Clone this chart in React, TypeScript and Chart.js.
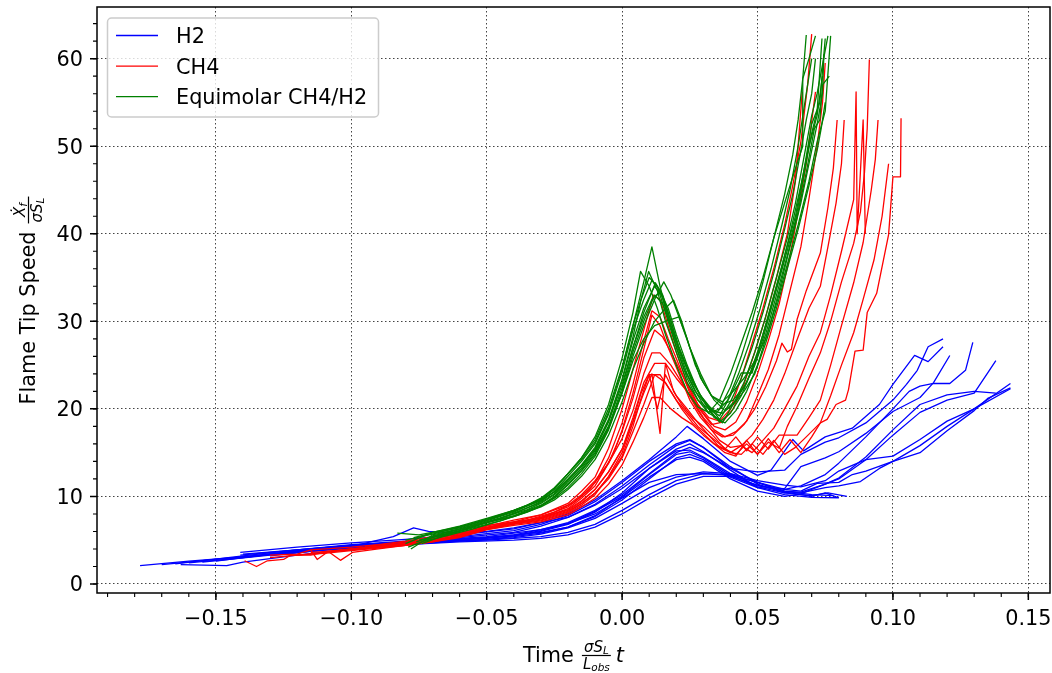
import React, { useEffect, useRef } from "react";
import { Chart, registerables } from "chart.js";
Chart.register(...registerables);

type Run = number[][];

// ---------------- H2 runs (x = scaled time, y = flame tip speed) ----------------
const H2_A: Run = [[-0.178,2.1],[-0.16,2.6],[-0.14,3.1],[-0.12,3.6],[-0.10,4.2],[-0.08,4.6],[-0.06,5.0],[-0.04,5.6],[-0.03,6.2],[-0.02,7.0],[-0.01,8.4],[0.0,10.2],[0.01,12.6],[0.02,15.0],[0.025,15.6],[0.03,15.0],[0.04,13.2],[0.05,11.6],[0.06,10.6],[0.066,10.5],[0.075,11.4],[0.08,12.1],[0.09,14.5],[0.10,17.6],[0.11,20.5],[0.12,21.6],[0.13,22.0],[0.138,21.8]];
const H2_B: Run = [[-0.163,2.2],[-0.146,2.1],[-0.14,2.5],[-0.12,3.3],[-0.10,4.0],[-0.08,4.5],[-0.06,4.9],[-0.04,5.3],[-0.03,5.7],[-0.02,6.4],[-0.01,7.5],[0.0,9.2],[0.01,11.0],[0.02,12.2],[0.03,12.8],[0.04,12.6],[0.05,11.8],[0.06,11.3],[0.066,11.1],[0.075,11.8],[0.08,12.9],[0.09,14.2],[0.10,14.6],[0.11,16.5],[0.12,18.6],[0.13,20.0],[0.1434,22.3]];
const H2_C: Run = [[-0.165,2.3],[-0.14,3.2],[-0.12,3.9],[-0.10,4.5],[-0.08,4.9],[-0.07,5.0],[-0.05,5.4],[-0.03,6.2],[-0.02,6.9],[-0.01,8.0],[0.0,9.8],[0.01,11.6],[0.02,12.5],[0.03,12.6],[0.04,12.4],[0.05,11.6],[0.06,10.8],[0.066,10.6],[0.072,11.5],[0.08,11.6],[0.085,12.5],[0.09,12.9],[0.10,14.0],[0.11,15.8],[0.12,18.0],[0.13,20.0],[0.1434,22.9]];
const H2_D: Run = [[-0.141,3.6],[-0.12,4.2],[-0.10,4.7],[-0.08,5.1],[-0.06,5.6],[-0.04,6.3],[-0.03,7.0],[-0.02,8.0],[-0.01,9.6],[0.0,11.8],[0.01,14.2],[0.02,16.8],[0.024,18.0],[0.03,16.6],[0.04,14.0],[0.05,12.4],[0.055,13.0],[0.063,16.5],[0.067,15.2],[0.075,16.8],[0.085,17.8],[0.095,20.5],[0.10,22.8],[0.108,26.1],[0.113,25.4],[0.1185,27.1]];
const H2_E: Run = [[-0.141,3.3],[-0.12,3.9],[-0.10,4.4],[-0.08,4.8],[-0.06,5.4],[-0.04,6.1],[-0.03,6.8],[-0.02,7.8],[-0.01,9.4],[0.0,11.6],[0.01,14.0],[0.02,16.0],[0.025,16.5],[0.03,15.6],[0.04,13.2],[0.05,12.8],[0.06,13.0],[0.066,14.8],[0.075,16.2],[0.08,16.7],[0.09,18.4],[0.10,21.0],[0.105,22.8],[0.109,24.4],[0.113,27.1],[0.1185,28.0]];
const H2_F: Run = [[-0.16,2.4],[-0.14,3.0],[-0.12,3.7],[-0.10,4.3],[-0.08,4.7],[-0.06,5.1],[-0.04,5.5],[-0.03,6.0],[-0.02,6.8],[-0.01,8.2],[0.0,10.4],[0.01,13.2],[0.02,15.2],[0.025,15.3],[0.03,14.5],[0.04,12.6],[0.05,11.2],[0.06,10.8],[0.066,11.2],[0.075,12.5],[0.08,13.8],[0.09,16.8],[0.10,20.0],[0.106,22.0],[0.11,22.6],[0.115,22.9],[0.121,22.9],[0.1268,24.4],[0.1295,27.6]];
const H2_G: Run = [[-0.15,2.6],[-0.13,3.4],[-0.11,4.1],[-0.09,4.6],[-0.07,5.0],[-0.05,5.3],[-0.03,5.9],[-0.02,6.5],[-0.01,7.7],[0.0,9.6],[0.01,12.0],[0.02,14.4],[0.025,14.8],[0.03,14.2],[0.04,12.2],[0.05,11.0],[0.06,10.9],[0.066,13.4],[0.075,14.4],[0.08,15.1],[0.09,17.2],[0.10,19.7],[0.11,21.3],[0.115,23.0],[0.121,26.1]];
const H2_H: Run = [[-0.155,2.5],[-0.13,3.3],[-0.11,3.9],[-0.09,4.4],[-0.07,4.8],[-0.05,5.1],[-0.04,5.4],[-0.03,5.8],[-0.02,6.5],[-0.01,7.8],[0.0,9.9],[0.01,12.2],[0.02,14.2],[0.025,14.5],[0.03,14.0],[0.04,12.0],[0.05,10.6],[0.06,10.0],[0.066,10.3],[0.07,10.8],[0.08,12.0],[0.09,14.2],[0.10,17.0],[0.11,19.6],[0.12,21.0],[0.13,21.8],[0.135,24.1],[0.138,25.5]];
const H2_I: Run = [[-0.145,2.9],[-0.12,3.8],[-0.10,4.3],[-0.08,4.7],[-0.06,5.0],[-0.05,5.2],[-0.04,5.5],[-0.03,6.1],[-0.02,6.9],[-0.01,8.3],[0.0,10.0],[0.01,12.5],[0.02,14.8],[0.025,15.1],[0.03,14.4],[0.04,12.4],[0.05,11.1],[0.06,10.4],[0.066,10.4],[0.075,11.0],[0.08,11.2],[0.088,11.7],[0.095,13.2],[0.10,14.0],[0.11,15.0],[0.12,17.5],[0.13,19.8],[0.135,21.2],[0.1434,22.4]];
const H2_J: Run = [[-0.17,2.2],[-0.15,2.8],[-0.12,3.7],[-0.10,4.3],[-0.0845,5.4],[-0.077,6.4],[-0.0715,6.0],[-0.06,5.8],[-0.05,6.0],[-0.04,6.4],[-0.03,7.0],[-0.02,7.6],[-0.01,9.0],[0.0,10.9],[0.01,13.2],[0.02,15.4],[0.025,16.0],[0.03,15.1],[0.04,13.0],[0.05,11.0],[0.06,10.2],[0.07,9.9],[0.08,9.85]];
const H2_K: Run = [[-0.14,3.4],[-0.12,3.9],[-0.10,4.4],[-0.08,4.8],[-0.06,5.3],[-0.04,5.9],[-0.03,6.6],[-0.02,7.6],[-0.01,9.1],[0.0,11.2],[0.01,13.6],[0.02,15.8],[0.025,16.4],[0.03,15.6],[0.04,13.4],[0.05,11.4],[0.06,10.4],[0.07,10.1],[0.076,10.4],[0.083,10.0]];
const H2_L: Run = [[-0.12,3.6],[-0.10,4.1],[-0.08,4.5],[-0.06,4.8],[-0.04,5.0],[-0.03,5.2],[-0.02,5.6],[-0.01,6.5],[0.0,8.0],[0.01,9.8],[0.02,11.4],[0.03,12.3],[0.04,12.3],[0.05,11.3],[0.06,10.6],[0.07,10.2],[0.078,10.1]];
const H2_M: Run = [[-0.13,3.2],[-0.11,3.9],[-0.09,4.4],[-0.07,4.8],[-0.05,5.0],[-0.03,5.4],[-0.02,5.9],[-0.01,6.8],[0.0,8.4],[0.01,10.2],[0.02,11.8],[0.03,12.6],[0.04,12.5],[0.05,11.6],[0.06,10.5],[0.07,10.0],[0.075,10.4],[0.08,9.85]];

// ---------------- CH4 runs ----------------
const CH4_A: Run = [[-0.105,3.8],[-0.09,4.3],[-0.08,4.7],[-0.07,5.1],[-0.06,5.8],[-0.05,6.7],[-0.04,7.1],[-0.03,7.9],[-0.02,9.2],[-0.015,10.6],[-0.01,12.2],[-0.005,15.5],[0.0,20.0],[0.004,24.5],[0.008,29.0],[0.0115,33.0],[0.014,32.5],[0.017,29.5],[0.02,26.5],[0.024,23.0],[0.028,20.5],[0.032,19.0],[0.036,18.6],[0.04,20.0],[0.044,23.5],[0.048,27.5],[0.052,31.5],[0.056,36.0],[0.06,41.0],[0.063,45.5],[0.066,50.5],[0.0685,57.0],[0.07,62.8]];
const CH4_B: Run = [[-0.1,4.0],[-0.085,4.4],[-0.07,5.0],[-0.06,5.5],[-0.05,6.4],[-0.04,6.9],[-0.03,7.6],[-0.02,8.8],[-0.015,10.0],[-0.01,11.6],[-0.005,14.4],[0.0,18.4],[0.004,22.8],[0.008,27.8],[0.011,31.2],[0.014,30.5],[0.017,28.0],[0.021,25.0],[0.025,21.8],[0.029,19.8],[0.033,18.2],[0.037,18.5],[0.041,20.0],[0.045,22.8],[0.049,26.5],[0.053,30.5],[0.057,35.0],[0.061,40.0],[0.064,46.0],[0.0665,56.2]];
const CH4_C: Run = [[-0.115,3.9],[-0.1,4.2],[-0.09,4.5],[-0.08,4.9],[-0.07,5.4],[-0.06,5.8],[-0.05,6.5],[-0.04,7.1],[-0.03,7.5],[-0.02,8.6],[-0.015,9.8],[-0.01,11.2],[-0.005,13.8],[0.0,17.4],[0.004,21.2],[0.008,25.8],[0.012,29.0],[0.015,28.2],[0.018,26.5],[0.022,24.0],[0.026,21.5],[0.03,19.5],[0.034,18.0],[0.038,17.6],[0.042,18.5],[0.046,20.8],[0.05,24.0],[0.054,27.8],[0.058,32.0],[0.062,37.5],[0.065,42.5],[0.068,48.0],[0.0714,56.2]];
const CH4_D: Run = [[-0.11,3.7],[-0.1,4.0],[-0.09,4.3],[-0.08,4.5],[-0.07,4.9],[-0.06,5.6],[-0.05,6.6],[-0.04,7.3],[-0.03,7.9],[-0.02,9.0],[-0.015,10.2],[-0.01,11.8],[-0.005,13.8],[0.0,16.6],[0.004,19.8],[0.008,24.0],[0.011,26.4],[0.014,26.4],[0.018,25.0],[0.022,23.0],[0.026,21.0],[0.03,19.0],[0.034,17.6],[0.038,16.8],[0.042,17.4],[0.046,18.6],[0.05,21.5],[0.054,24.5],[0.058,28.5],[0.062,33.5],[0.066,38.5],[0.069,44.0],[0.072,50.0],[0.074,55.0],[0.075,59.5]];
const CH4_E: Run = [[-0.095,4.3],[-0.085,4.6],[-0.075,5.0],[-0.065,5.4],[-0.055,6.0],[-0.045,6.8],[-0.035,7.3],[-0.025,8.2],[-0.018,9.3],[-0.012,10.8],[-0.007,12.8],[-0.003,15.0],[0.0,17.6],[0.004,21.8],[0.008,26.8],[0.011,30.7],[0.014,29.5],[0.017,27.0],[0.021,24.0],[0.025,21.0],[0.029,19.0],[0.033,17.6],[0.037,16.8],[0.041,17.0],[0.045,18.2],[0.049,20.0],[0.053,22.5],[0.057,25.5],[0.059,27.5],[0.061,26.5],[0.0625,26.8],[0.0646,30.2],[0.068,33.5],[0.0732,37.8],[0.076,43.0],[0.078,47.5],[0.0794,53.0]];
const CH4_F: Run = [[-0.12,3.3],[-0.11,3.6],[-0.1,4.0],[-0.09,4.2],[-0.08,4.6],[-0.07,5.0],[-0.06,5.5],[-0.05,6.4],[-0.04,7.0],[-0.03,7.6],[-0.02,8.5],[-0.015,9.5],[-0.01,10.8],[-0.005,12.8],[0.0,15.4],[0.004,19.0],[0.008,23.0],[0.012,25.2],[0.016,25.2],[0.02,23.5],[0.024,22.0],[0.028,19.8],[0.032,18.0],[0.036,16.4],[0.04,15.6],[0.044,15.8],[0.048,17.0],[0.052,18.8],[0.056,21.0],[0.06,24.0],[0.0646,27.9],[0.069,31.5],[0.0732,34.0],[0.076,38.5],[0.079,43.5],[0.081,48.0],[0.082,53.0]];
const CH4_G: Run = [[-0.115,3.6],[-0.1,3.9],[-0.09,4.2],[-0.08,4.4],[-0.07,4.8],[-0.06,5.4],[-0.05,6.3],[-0.04,6.9],[-0.03,7.3],[-0.02,8.2],[-0.015,9.2],[-0.01,10.4],[-0.005,12.2],[0.0,14.6],[0.004,18.0],[0.007,21.2],[0.01,23.9],[0.013,20.0],[0.016,23.9],[0.02,21.5],[0.024,20.0],[0.028,18.4],[0.032,17.0],[0.036,15.6],[0.04,15.0],[0.044,15.8],[0.048,15.0],[0.052,16.4],[0.056,17.8],[0.06,20.0],[0.0646,22.6],[0.069,26.0],[0.0732,28.7],[0.077,33.0],[0.081,38.0],[0.0855,43.9],[0.0864,56.2],[0.0868,40.0],[0.089,53.0],[0.0898,40.0]];
const CH4_H: Run = [[-0.13,3.0],[-0.12,3.3],[-0.11,3.5],[-0.1,3.8],[-0.09,4.1],[-0.08,4.4],[-0.07,4.8],[-0.06,5.3],[-0.05,6.2],[-0.04,6.8],[-0.03,7.2],[-0.02,8.1],[-0.015,9.0],[-0.01,10.2],[-0.005,12.3],[0.0,15.0],[0.004,18.5],[0.008,21.8],[0.011,24.0],[0.014,17.2],[0.016,25.2],[0.019,22.0],[0.022,20.5],[0.026,19.0],[0.03,18.0],[0.034,16.8],[0.038,15.4],[0.042,14.8],[0.046,16.0],[0.05,14.8],[0.054,16.2],[0.058,15.5],[0.061,18.0],[0.0646,20.3],[0.069,23.5],[0.0732,26.4],[0.077,30.0],[0.081,34.5],[0.0855,38.9],[0.088,42.5],[0.0895,47.0],[0.0905,52.0],[0.0913,59.9]];
const CH4_I: Run = [[-0.1,3.9],[-0.09,4.2],[-0.08,4.5],[-0.07,4.9],[-0.06,5.4],[-0.05,6.2],[-0.04,6.7],[-0.03,7.1],[-0.02,7.9],[-0.015,8.8],[-0.01,9.8],[-0.005,11.4],[0.0,13.6],[0.004,16.2],[0.008,19.0],[0.011,21.3],[0.014,21.3],[0.018,20.0],[0.022,19.0],[0.026,18.2],[0.03,17.0],[0.034,16.0],[0.038,15.4],[0.042,16.8],[0.046,15.2],[0.05,16.8],[0.054,15.4],[0.058,17.0],[0.0646,17.0],[0.069,19.0],[0.0732,21.0],[0.077,25.0],[0.081,29.5],[0.0855,34.4],[0.089,39.0],[0.092,45.0],[0.0935,48.5],[0.0945,53.0]];
const CH4_J: Run = [[-0.13,3.3],[-0.12,3.4],[-0.115,3.9],[-0.1126,2.8],[-0.1085,3.7],[-0.104,2.7],[-0.0996,3.6],[-0.09,4.0],[-0.08,4.4],[-0.07,4.9],[-0.06,5.5],[-0.05,6.4],[-0.04,7.0],[-0.03,7.5],[-0.02,8.4],[-0.015,9.4],[-0.01,10.8],[-0.005,12.8],[0.0,15.4],[0.004,18.6],[0.007,21.8],[0.01,23.9],[0.014,23.9],[0.018,22.0],[0.022,20.0],[0.026,18.4],[0.03,17.2],[0.034,16.0],[0.038,15.0],[0.042,14.6],[0.046,16.4],[0.05,14.8],[0.054,16.6],[0.058,15.0],[0.062,16.5],[0.066,15.0],[0.07,16.8],[0.0732,18.4],[0.077,21.5],[0.081,25.0],[0.0855,28.7],[0.089,32.5],[0.093,37.0],[0.096,42.0],[0.0984,48.0]];
const CH4_K: Run = [[-0.1394,2.65],[-0.135,2.0],[-0.131,2.65],[-0.125,2.8],[-0.1224,3.3],[-0.115,3.3],[-0.11,3.6],[-0.1,3.9],[-0.09,4.3],[-0.08,4.6],[-0.07,4.9],[-0.06,5.4],[-0.05,6.3],[-0.04,6.9],[-0.03,7.4],[-0.02,8.3],[-0.015,9.2],[-0.01,10.4],[-0.005,12.0],[0.0,14.4],[0.004,17.4],[0.008,20.5],[0.012,23.9],[0.016,23.0],[0.02,21.0],[0.024,19.5],[0.028,18.0],[0.032,17.0],[0.036,16.0],[0.04,15.0],[0.044,14.8],[0.048,16.0],[0.052,14.8],[0.056,16.4],[0.06,14.8],[0.064,15.6],[0.068,16.8],[0.0732,18.4],[0.0757,18.8],[0.079,20.5],[0.0825,21.0],[0.0836,22.2],[0.086,26.6],[0.089,26.7],[0.0905,31.0],[0.094,33.2],[0.0984,39.9],[0.1,46.5],[0.1028,46.5],[0.103,53.2]];

// ---------------- Equimolar CH4/H2 runs ----------------
const EQ_A: Run = [[-0.078,4.0],[-0.07,5.6],[-0.06,6.3],[-0.05,7.2],[-0.04,8.2],[-0.03,9.6],[-0.025,10.8],[-0.02,12.6],[-0.015,14.2],[-0.01,16.2],[-0.005,19.6],[0.0,24.6],[0.004,29.5],[0.008,34.5],[0.011,38.5],[0.014,34.0],[0.017,30.5],[0.02,27.0],[0.024,23.5],[0.028,21.0],[0.032,19.5],[0.036,20.0],[0.04,22.5],[0.044,26.0],[0.048,30.0],[0.052,34.5],[0.056,39.5],[0.06,44.5],[0.063,49.0],[0.065,53.0],[0.0667,57.7],[0.068,62.7]];
const EQ_B: Run = [[-0.083,5.8],[-0.075,5.6],[-0.065,6.2],[-0.055,6.9],[-0.045,7.8],[-0.035,9.0],[-0.03,9.8],[-0.025,11.0],[-0.02,12.6],[-0.015,14.4],[-0.01,16.8],[-0.005,20.5],[0.0,25.8],[0.004,31.0],[0.0068,35.7],[0.01,34.0],[0.013,31.5],[0.016,28.5],[0.02,25.0],[0.024,22.0],[0.028,20.2],[0.032,19.6],[0.036,21.0],[0.04,24.0],[0.044,27.5],[0.048,31.0],[0.052,35.0],[0.056,39.5],[0.06,43.5],[0.0635,47.0],[0.0667,50.0],[0.0667,57.7],[0.069,60.0],[0.0714,62.6]];
const EQ_C: Run = [[-0.08,4.6],[-0.07,5.9],[-0.06,6.6],[-0.05,7.5],[-0.04,8.4],[-0.03,9.5],[-0.025,10.5],[-0.02,12.0],[-0.015,13.6],[-0.01,15.6],[-0.005,18.8],[0.0,23.4],[0.004,28.2],[0.007,32.5],[0.0098,35.7],[0.013,33.5],[0.016,30.0],[0.02,26.5],[0.024,23.0],[0.028,21.0],[0.032,20.0],[0.036,19.2],[0.04,21.5],[0.044,24.1],[0.048,24.1],[0.052,28.5],[0.056,33.0],[0.06,37.5],[0.064,42.0],[0.067,47.0],[0.07,52.5],[0.073,55.0],[0.075,62.3]];
const EQ_D: Run = [[-0.076,4.8],[-0.07,5.4],[-0.06,6.1],[-0.05,7.0],[-0.04,7.8],[-0.03,9.0],[-0.025,10.0],[-0.02,11.4],[-0.015,13.0],[-0.01,15.0],[-0.005,18.0],[0.0,22.4],[0.004,27.0],[0.008,31.0],[0.0123,34.4],[0.015,33.0],[0.018,30.0],[0.021,27.0],[0.025,24.0],[0.029,21.5],[0.033,20.0],[0.037,18.4],[0.041,20.5],[0.045,23.0],[0.049,26.5],[0.053,30.5],[0.057,35.0],[0.061,39.5],[0.064,43.5],[0.067,48.5],[0.07,53.5],[0.072,56.0],[0.076,62.6]];
const EQ_E: Run = [[-0.074,4.6],[-0.065,5.6],[-0.055,6.4],[-0.045,7.2],[-0.035,8.3],[-0.03,8.9],[-0.025,9.8],[-0.02,11.0],[-0.015,12.6],[-0.01,14.6],[-0.005,17.6],[0.0,21.8],[0.004,26.0],[0.008,29.5],[0.012,32.5],[0.0154,34.5],[0.018,33.0],[0.021,30.5],[0.025,27.0],[0.029,24.0],[0.033,21.5],[0.037,20.5],[0.041,21.0],[0.045,22.5],[0.049,25.0],[0.053,28.5],[0.057,33.0],[0.061,37.5],[0.065,42.5],[0.068,47.0],[0.071,52.0],[0.073,53.0],[0.074,57.0],[0.0765,58.0]];
const EQ_F: Run = [[-0.07,5.5],[-0.06,6.2],[-0.05,7.0],[-0.04,7.7],[-0.03,8.8],[-0.025,9.6],[-0.02,10.8],[-0.015,12.3],[-0.01,14.2],[-0.005,17.0],[0.0,20.8],[0.004,24.5],[0.008,27.5],[0.012,30.0],[0.016,31.5],[0.019,32.4],[0.022,30.0],[0.025,27.0],[0.029,23.5],[0.033,21.5],[0.037,20.8],[0.041,22.0],[0.045,23.5],[0.049,25.5],[0.053,28.0],[0.057,32.0],[0.061,36.5],[0.065,41.0],[0.069,46.0],[0.072,50.5],[0.075,54.0],[0.077,62.6]];
const EQ_G: Run = [[-0.072,5.2],[-0.065,5.9],[-0.055,6.7],[-0.045,7.5],[-0.035,8.5],[-0.03,9.2],[-0.025,10.2],[-0.02,11.6],[-0.015,13.2],[-0.01,15.2],[-0.005,18.0],[0.0,21.8],[0.004,25.5],[0.008,28.0],[0.012,29.5],[0.016,30.0],[0.021,30.5],[0.024,28.0],[0.027,25.0],[0.03,23.0],[0.034,21.0],[0.038,19.8],[0.042,21.0],[0.046,23.0],[0.05,26.5],[0.054,30.5],[0.058,35.0],[0.062,40.0],[0.066,45.5],[0.069,50.0],[0.072,53.5],[0.074,58.0]];
const EQ_H: Run = [[-0.079,4.2],[-0.07,5.3],[-0.06,6.0],[-0.05,7.1],[-0.04,8.0],[-0.03,9.4],[-0.025,10.6],[-0.02,12.3],[-0.015,14.0],[-0.01,16.0],[-0.005,19.4],[0.0,24.2],[0.004,29.0],[0.008,32.5],[0.011,34.7],[0.014,33.5],[0.017,30.5],[0.02,27.5],[0.024,24.0],[0.028,21.5],[0.032,19.5],[0.036,18.8],[0.04,20.8],[0.044,23.5],[0.048,27.0],[0.052,31.0],[0.056,35.5],[0.06,40.5],[0.063,44.5],[0.066,49.5],[0.068,53.0],[0.07,56.0],[0.0714,60.0]];
const EQ_I: Run = [[-0.08,5.0],[-0.07,5.7],[-0.06,6.5],[-0.05,7.4],[-0.04,8.4],[-0.03,9.6],[-0.025,10.5],[-0.02,11.9],[-0.015,13.5],[-0.01,15.4],[-0.005,18.5],[0.0,22.8],[0.004,27.0],[0.008,30.5],[0.011,32.5],[0.0141,33.4],[0.017,31.5],[0.02,28.5],[0.024,25.0],[0.028,22.0],[0.032,20.0],[0.036,18.5],[0.04,19.5],[0.044,21.5],[0.048,24.5],[0.052,28.0],[0.056,32.5],[0.06,37.0],[0.064,41.5],[0.067,46.5],[0.07,51.5],[0.072,54.0],[0.0738,62.3]];
const EQ_J: Run = [[-0.077,5.3],[-0.07,5.8],[-0.06,6.4],[-0.05,7.3],[-0.04,8.3],[-0.03,9.7],[-0.025,10.9],[-0.02,12.6],[-0.015,14.4],[-0.01,16.5],[-0.005,20.0],[0.0,24.8],[0.004,29.5],[0.007,32.5],[0.01,35.0],[0.013,34.0],[0.016,31.0],[0.019,28.0],[0.023,24.5],[0.027,22.0],[0.031,20.5],[0.035,19.6],[0.039,21.0],[0.043,24.0],[0.047,27.5],[0.051,31.5],[0.055,36.0],[0.059,41.0],[0.062,45.0],[0.065,50.0],[0.067,54.0],[0.069,58.0],[0.07,60.0]];
const EQ_K: Run = [[-0.075,5.0],[-0.065,5.7],[-0.055,6.5],[-0.045,7.5],[-0.035,8.7],[-0.03,9.3],[-0.025,10.3],[-0.02,11.8],[-0.015,13.4],[-0.01,15.4],[-0.005,18.6],[0.0,23.2],[0.004,27.8],[0.008,31.5],[0.012,34.0],[0.015,32.8],[0.018,30.0],[0.021,27.0],[0.025,23.8],[0.029,21.5],[0.033,19.8],[0.037,19.5],[0.041,20.5],[0.045,22.0],[0.049,24.0],[0.053,27.5],[0.057,31.5],[0.061,36.0],[0.065,40.5],[0.069,45.5],[0.072,49.5],[0.0735,52.0],[0.075,55.0]];
const EQ_L: Run = [[-0.073,4.9],[-0.065,5.5],[-0.055,6.3],[-0.045,7.2],[-0.035,8.2],[-0.03,8.9],[-0.025,9.9],[-0.02,11.3],[-0.015,12.9],[-0.01,14.8],[-0.005,17.8],[0.0,22.0],[0.004,26.5],[0.008,30.0],[0.012,33.0],[0.015,32.0],[0.018,29.5],[0.022,26.0],[0.026,23.0],[0.03,21.0],[0.034,19.0],[0.038,18.4],[0.042,19.8],[0.046,22.0],[0.05,25.0],[0.054,29.0],[0.058,33.5],[0.062,38.5],[0.066,43.5],[0.069,48.0],[0.072,52.5],[0.074,56.0],[0.0745,60.5]];

const H2_RUNS: Run[] = [H2_A, H2_B, H2_C, H2_D, H2_E, H2_F, H2_G, H2_H, H2_I, H2_J, H2_K, H2_L, H2_M];
const CH4_RUNS: Run[] = [CH4_A, CH4_B, CH4_C, CH4_D, CH4_E, CH4_F, CH4_G, CH4_H, CH4_I, CH4_J, CH4_K];
const EQ_RUNS: Run[] = [EQ_A, EQ_B, EQ_C, EQ_D, EQ_E, EQ_F, EQ_G, EQ_H, EQ_I, EQ_J, EQ_K, EQ_L];

const SERIES_LABELS = ["H2", "CH4", "Equimolar CH4/H2"];
const SERIES_COLORS = ["#0000ff", "#ff0000", "#008000"];

const X_MIN = -0.1939;
const X_MAX = 0.158;
const Y_MIN = -1.03;
const Y_MAX = 65.9;
const X_MAJOR_STEP = 0.05;
const X_MINOR_STEP = 0.01;
const Y_MAJOR_STEP = 10;
const Y_MINOR_STEP = 2;

const FONT = '"DejaVu Sans", Verdana, sans-serif';
const FS = 20.8;
const FRAC_FS = 15;
const SUB_FS = 10.5;

type Piece = { t: string; size: number; it?: boolean; dy?: number };

function setFont(ctx: CanvasRenderingContext2D, p: Piece) {
  ctx.font = `${p.it ? "italic " : ""}${p.size}px ${FONT}`;
}
function piecesWidth(ctx: CanvasRenderingContext2D, ps: Piece[]) {
  let w = 0;
  for (const p of ps) {
    setFont(ctx, p);
    w += ctx.measureText(p.t).width;
  }
  return w;
}
function drawPieces(ctx: CanvasRenderingContext2D, ps: Piece[], x: number, y: number) {
  for (const p of ps) {
    setFont(ctx, p);
    ctx.fillText(p.t, x, y + (p.dy || 0));
    x += ctx.measureText(p.t).width;
  }
}

// draws "prefix  num/den  suffix" centered at cx with text baseline at y
function drawMathLabel(
  ctx: CanvasRenderingContext2D,
  cx: number,
  y: number,
  prefix: string,
  num: Piece[],
  den: Piece[],
  suffix: Piece[]
) {
  ctx.textAlign = "left";
  ctx.textBaseline = "alphabetic";
  ctx.font = `${FS}px ${FONT}`;
  const gapL = 7;
  const gapR = suffix.length ? 4 : 0;
  const pw = ctx.measureText(prefix).width + gapL;
  const nw = piecesWidth(ctx, num);
  const dw = piecesWidth(ctx, den);
  const fw = Math.max(nw, dw) + 4;
  const sw = piecesWidth(ctx, suffix) + gapR;
  const total = pw + fw + sw;
  let x = cx - total / 2;
  ctx.font = `${FS}px ${FONT}`;
  ctx.fillText(prefix, x, y);
  x += pw;
  const barY = y - 6.5;
  ctx.fillRect(x + 1, barY - 0.6, fw - 2, 1.2);
  drawPieces(ctx, num, x + (fw - nw) / 2, barY - 4);
  drawPieces(ctx, den, x + (fw - dw) / 2, barY + 2.5 + FRAC_FS * 0.73);
  x += fw + gapR;
  drawPieces(ctx, suffix, x, y);
}

function fmtX(v: number) {
  if (Math.abs(v) < 1e-9) return "0.00";
  return (v < 0 ? "\u2212" : "") + Math.abs(v).toFixed(2);
}

const decorPlugin = {
  id: "decor",
  afterDraw(chart: any) {
    const { ctx, chartArea: a, scales } = chart;
    const xs = scales.x;
    const ys = scales.y;
    ctx.save();
    ctx.strokeStyle = "#000";
    ctx.fillStyle = "#000";

    // minor ticks
    ctx.lineWidth = 1.1;
    ctx.beginPath();
    for (let i = Math.ceil(X_MIN / X_MINOR_STEP); i * X_MINOR_STEP <= X_MAX; i++) {
      const px = xs.getPixelForValue(i * X_MINOR_STEP);
      ctx.moveTo(px, a.bottom);
      ctx.lineTo(px, a.bottom + 4);
    }
    for (let i = Math.ceil(Y_MIN / Y_MINOR_STEP); i * Y_MINOR_STEP <= Y_MAX; i++) {
      const py = ys.getPixelForValue(i * Y_MINOR_STEP);
      ctx.moveTo(a.left, py);
      ctx.lineTo(a.left - 4, py);
    }
    ctx.stroke();

    // major ticks
    ctx.lineWidth = 1.5;
    ctx.beginPath();
    for (const t of xs.ticks) {
      const px = xs.getPixelForValue(t.value);
      ctx.moveTo(px, a.bottom);
      ctx.lineTo(px, a.bottom + 7);
    }
    for (const t of ys.ticks) {
      const py = ys.getPixelForValue(t.value);
      ctx.moveTo(a.left, py);
      ctx.lineTo(a.left - 7, py);
    }
    ctx.stroke();

    // frame
    ctx.lineWidth = 1.5;
    ctx.strokeRect(a.left, a.top, a.right - a.left, a.bottom - a.top);

    // tick labels
    ctx.font = `${FS}px ${FONT}`;
    ctx.textBaseline = "alphabetic";
    ctx.textAlign = "center";
    for (const t of xs.ticks) {
      ctx.fillText(fmtX(t.value), xs.getPixelForValue(t.value), a.bottom + 32);
    }
    ctx.textAlign = "right";
    for (const t of ys.ticks) {
      ctx.fillText(String(Math.round(t.value)), a.left - 14, ys.getPixelForValue(t.value) + 7.5);
    }

    // x axis title
    drawMathLabel(
      ctx,
      (a.left + a.right) / 2,
      662,
      "Time",
      [
        { t: "\u03c3", size: FRAC_FS, it: true },
        { t: "S", size: FRAC_FS, it: true },
        { t: "L", size: SUB_FS, it: true, dy: 2.5 },
      ],
      [
        { t: "L", size: FRAC_FS, it: true },
        { t: "obs", size: SUB_FS, it: true, dy: 2.5 },
      ],
      [{ t: "t", size: FS, it: true }]
    );

    // y axis title
    ctx.save();
    ctx.translate(35, (a.top + a.bottom) / 2);
    ctx.rotate(-Math.PI / 2);
    drawMathLabel(
      ctx,
      0,
      0,
      "Flame Tip Speed",
      [
        { t: "\u1e8a", size: FRAC_FS, it: true },
        { t: "f", size: SUB_FS, it: true, dy: 2.5 },
      ],
      [
        { t: "\u03c3", size: FRAC_FS, it: true },
        { t: "S", size: FRAC_FS, it: true },
        { t: "L", size: SUB_FS, it: true, dy: 2.5 },
      ],
      []
    );
    ctx.restore();

    // legend
    const lx = 107.5, ly = 18, lw = 271, lh = 99;
    ctx.beginPath();
    (ctx as any).roundRect(lx, ly, lw, lh, 4);
    ctx.fillStyle = "rgba(255,255,255,0.8)";
    ctx.fill();
    ctx.lineWidth = 1.5;
    ctx.strokeStyle = "#cccccc";
    ctx.stroke();
    ctx.font = `${FS}px ${FONT}`;
    ctx.textAlign = "left";
    ctx.textBaseline = "alphabetic";
    SERIES_LABELS.forEach((label, i) => {
      const cy = 35.5 + i * 30.6;
      ctx.strokeStyle = SERIES_COLORS[i];
      ctx.lineWidth = 1.3;
      ctx.beginPath();
      ctx.moveTo(116, cy);
      ctx.lineTo(158, cy);
      ctx.stroke();
      ctx.fillStyle = "#000";
      ctx.fillText(label, 176, cy + 7.5);
    });

    ctx.restore();
  },
};

export default function App() {
  const ref = useRef<HTMLCanvasElement>(null);
  useEffect(() => {
    const canvas = ref.current;
    if (!canvas) return;
    const groups: [Run[], number][] = [
      [EQ_RUNS, 2],
      [CH4_RUNS, 1],
      [H2_RUNS, 0],
    ];
    const datasets: any[] = [];
    for (const [runs, si] of groups) {
      runs.forEach((run, k) => {
        datasets.push({
          label: `${SERIES_LABELS[si]} ${k + 1}`,
          data: run.map(([x, y]) => ({ x, y })),
          borderColor: SERIES_COLORS[si],
          backgroundColor: SERIES_COLORS[si],
          borderWidth: 1.3,
          pointRadius: 0,
          fill: false,
          tension: 0,
        });
      });
    }
    const chart = new Chart(canvas, {
      type: "line",
      data: { datasets },
      options: {
        animation: false,
        responsive: false,
        devicePixelRatio: 1,
        events: [],
        layout: { padding: { left: 0, right: 2, top: 7, bottom: 0 } },
        plugins: { legend: { display: false }, tooltip: { enabled: false } },
        elements: { line: { borderJoinStyle: "round" } },
        scales: {
          x: {
            type: "linear",
            min: X_MIN,
            max: X_MAX,
            afterFit: (s: any) => {
              s.height = 80;
            },
            ticks: { display: false, stepSize: X_MAJOR_STEP, includeBounds: false },
            grid: { drawTicks: false, color: "#444", lineWidth: 1 },
            border: { display: false, dash: [1.5, 2.5] },
          },
          y: {
            type: "linear",
            min: Y_MIN,
            max: Y_MAX,
            afterFit: (s: any) => {
              s.width = 97;
            },
            ticks: { display: false, stepSize: Y_MAJOR_STEP, includeBounds: false },
            grid: { drawTicks: false, color: "#444", lineWidth: 1 },
            border: { display: false, dash: [1.5, 2.5] },
          },
        },
      } as any,
      plugins: [decorPlugin],
    });
    return () => chart.destroy();
  }, []);
  return (
    <div style={{ position: "absolute", left: 0, top: 0, width: 1052, height: 673 }}>
      <canvas ref={ref} width={1052} height={673} style={{ width: 1052, height: 673, display: "block" }} />
    </div>
  );
}
